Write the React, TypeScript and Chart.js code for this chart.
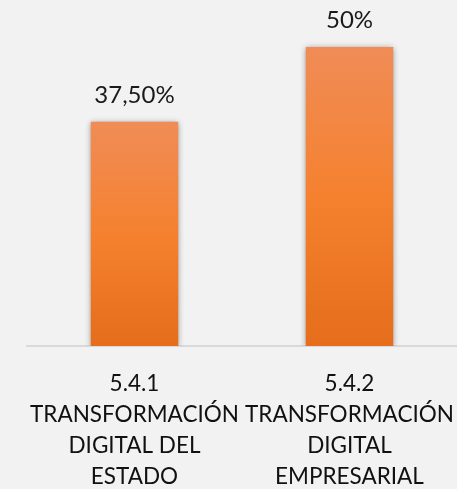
import React, { useEffect, useRef } from "react";
import { Chart, registerables } from "chart.js";

Chart.register(...registerables);

const categories: string[][] = [
  ["5.4.1", "TRANSFORMACIÓN", "DIGITAL DEL", "ESTADO"],
  ["5.4.2", "TRANSFORMACIÓN", "DIGITAL", "EMPRESARIAL"],
];
const values: number[] = [37.5, 50];
const valueLabels: string[] = ["37,50%", "50%"];
const yMin = 0;
const yMax = 56.2;

const FONT = "Lato, 'Open Sans', sans-serif";

export default function App() {
  const ref = useRef<HTMLCanvasElement | null>(null);

  useEffect(() => {
    if (!ref.current) return;

    const labelPlugin = {
      id: "valueLabels",
      afterDatasetsDraw(chart: any) {
        const ctx = chart.ctx;
        const meta = chart.getDatasetMeta(0);
        ctx.save();
        ctx.fillStyle = "#1a1a1a";
        ctx.font = `24px ${FONT}`;
        ctx.textAlign = "center";
        ctx.textBaseline = "alphabetic";
        meta.data.forEach((bar: any, i: number) => {
          ctx.fillText(valueLabels[i], bar.x, bar.y - 19);
        });
        ctx.restore();
      },
    };

    const shadowPlugin = {
      id: "barShadow",
      beforeDatasetsDraw(chart: any) {
        const ctx = chart.ctx;
        ctx.save();
        ctx.shadowColor = "rgba(0,0,0,0.4)";
        ctx.shadowBlur = 6;
        ctx.shadowOffsetX = 0;
        ctx.shadowOffsetY = 1;
      },
      afterDatasetsDraw(chart: any) {
        chart.ctx.restore();
      },
    };

    const chart = new Chart(ref.current, {
      type: "bar",
      data: {
        labels: categories,
        datasets: [
          {
            data: values,
            backgroundColor: (c: any) => {
              const chart = c.chart;
              const y = chart.scales?.y;
              if (!y || c.raw === undefined) return "#f47f2e";
              const top = y.getPixelForValue(c.raw);
              const bottom = y.getPixelForValue(0);
              if (!isFinite(top) || !isFinite(bottom) || top === bottom) return "#f47f2e";
              const g = chart.ctx.createLinearGradient(0, top, 0, bottom);
              g.addColorStop(0, "#f08c57");
              g.addColorStop(0.5, "#f5812f");
              g.addColorStop(1, "#e56d1b");
              return g;
            },
            borderWidth: 0,
            barPercentage: 0.407,
            categoryPercentage: 1,
          },
        ],
      },
      options: {
        animation: false,
        responsive: false,
        maintainAspectRatio: false,
        layout: { padding: { left: 27, right: -2, top: 10, bottom: 0 } },
        plugins: {
          legend: { display: false },
          tooltip: { enabled: false },
        },
        scales: {
          x: {
            grid: { display: false, drawTicks: false },
            border: { display: true, color: "#d9d9d9", width: 2 },
            ticks: {
              color: "#111111",
              font: { family: FONT, size: 22.5, lineHeight: 1.375 },
              padding: 22,
              maxRotation: 0,
              minRotation: 0,
              autoSkip: false,
            },
            afterFit: (scale: any) => {
              scale.height = 143;
              scale.paddingLeft = 0;
              scale.paddingRight = 0;
            },
          },
          y: {
            display: false,
            min: yMin,
            max: yMax,
          },
        },
      },
      plugins: [shadowPlugin, labelPlugin],
    });

    return () => chart.destroy();
  }, []);

  return (
    <div
      style={{
        position: "fixed",
        left: 0,
        top: 0,
        width: 457,
        height: 489,
        background: "#f2f2f2",
      }}
    >
      <canvas ref={ref} width={457} height={489} style={{ display: "block" }} />
    </div>
  );
}
